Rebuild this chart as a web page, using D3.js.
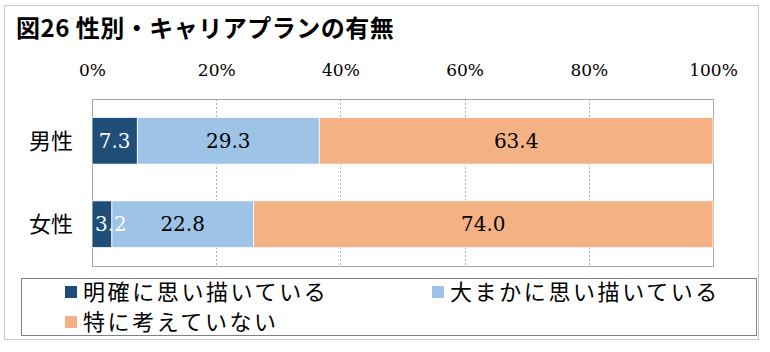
<!DOCTYPE html>
<html>
<head>
<meta charset="utf-8">
<script src="https://cdn.jsdelivr.net/npm/d3@7"></script>
<style>
  body { margin: 0; background: #fff; }
</style>
</head>
<body>
<script>
// chart data
var categories = ["男性", "女性"];
var seriesNames = ["明確に思い描いている", "大まかに思い描いている", "特に考えていない"];
var clearPlan = [7.3, 3.2];
var roughPlan = [29.3, 22.8];
var noPlan = [63.4, 74.0];
var tickValues = [0, 20, 40, 60, 80, 100];
var colors = ["#1F4E79", "#9DC3E6", "#F4B183"];
var labelColors = ["#fff", "#000", "#000"];

var jpFont = "'Noto Sans CJK JP', sans-serif";
var numFont = "'DejaVu Serif', serif";

var width = 770, height = 352;
var plot = {left: 92, right: 713, top: 99, bottom: 266};

var svg = d3.select("body").append("svg")
  .attr("width", width)
  .attr("height", height);

// outer frame
svg.append("rect")
  .attr("x", 4.5).attr("y", 5.5)
  .attr("width", 754).attr("height", 334)
  .attr("fill", "#fff")
  .attr("stroke", "#c8c8c8");

// title
svg.append("text")
  .attr("font-family", jpFont)
  .attr("x", 16).attr("y", 37)
  .attr("font-size", 24)
  .attr("font-weight", "bold")
  .attr("letter-spacing", 0.5)
  .text("図26 性別・キャリアプランの有無");

// build rows for stacking
var rows = categories.map(function(c, i) {
  return {cat: c, s0: clearPlan[i], s1: roughPlan[i], s2: noPlan[i]};
});
var stack = d3.stack().keys(["s0", "s1", "s2"]);
var layers = stack(rows);

var x = d3.scaleLinear().domain([0, 100]).range([plot.left, plot.right]);
var y = d3.scaleBand().domain(categories).range([plot.top, plot.bottom]).paddingInner(0.44).paddingOuter(0.22);

// gridlines
svg.append("g").selectAll("line")
  .data(tickValues.slice(1, -1))
  .enter().append("line")
  .attr("x1", function(d) { return Math.round(x(d)) + 0.5; })
  .attr("x2", function(d) { return Math.round(x(d)) + 0.5; })
  .attr("y1", plot.top).attr("y2", plot.bottom)
  .attr("stroke", "#b0b0b0")
  .attr("stroke-dasharray", "2,2");

// plot border
svg.append("rect")
  .attr("x", plot.left + 0.5).attr("y", plot.top + 0.5)
  .attr("width", plot.right - plot.left).attr("height", plot.bottom - plot.top)
  .attr("fill", "none")
  .attr("stroke", "#a6a6a6");

// top axis labels
var axis = d3.axisTop(x).tickValues(tickValues).tickSize(0)
  .tickFormat(function(d) { return d + "%"; });
var axisG = svg.append("g")
  .attr("transform", "translate(0," + 79 + ")")
  .call(axis)
  .attr("font-family", numFont)
  .attr("font-size", 17);
axisG.select(".domain").remove();
axisG.selectAll("text")
  .attr("font-family", numFont)
  .attr("font-size", 17)
  .attr("fill", "#000")
  .attr("dy", 0);

// bars
var layerG = svg.append("g").selectAll("g")
  .data(layers)
  .enter().append("g")
  .attr("fill", function(d, i) { return colors[i]; });

layerG.selectAll("rect")
  .data(function(d) { return d; })
  .enter().append("rect")
  .attr("x", function(d) { return x(d[0]); })
  .attr("y", function(d) { return y(d.data.cat); })
  .attr("width", function(d) { return x(d[1]) - x(d[0]); })
  .attr("height", y.bandwidth())
  .attr("stroke", "#fff")
  .attr("stroke-width", 0.8);

// value labels
layers.forEach(function(layer, li) {
  layer.forEach(function(d) {
    var v = d[1] - d[0];
    var t = svg.append("text")
      .attr("font-family", numFont)
      .attr("font-size", 20)
      .attr("fill", labelColors[li])
      .attr("text-anchor", "middle")
      .attr("y", y(d.data.cat) + y.bandwidth() / 2 + 7)
      .text(v.toFixed(1));
    var w = t.node().getComputedTextLength();
    var cx = (x(d[0]) + x(d[1])) / 2;
    cx = Math.max(cx, x(d[0]) + 3 + w / 2);
    t.attr("x", cx);
  });
});

// category labels
svg.append("g").selectAll("text")
  .data(categories)
  .enter().append("text")
  .attr("font-family", jpFont)
  .attr("x", 73)
  .attr("y", function(d) { return y(d) + y.bandwidth() / 2 + 8; })
  .attr("text-anchor", "end")
  .attr("font-size", 22)
  .text(function(d) { return d; });

// legend
svg.append("rect")
  .attr("x", 21.5).attr("y", 278.5)
  .attr("width", 735).attr("height", 57)
  .attr("fill", "#fff")
  .attr("stroke", "#808080");

var legendPos = [[65, 292], [432, 292], [65, 322]];
var legend = svg.append("g").selectAll("g")
  .data(seriesNames)
  .enter().append("g")
  .attr("transform", function(d, i) { return "translate(" + legendPos[i][0] + "," + legendPos[i][1] + ")"; });

legend.append("rect")
  .attr("x", 0).attr("y", -6)
  .attr("width", 12).attr("height", 12)
  .attr("fill", function(d, i) { return colors[i]; });

legend.append("text")
  .attr("font-family", jpFont)
  .attr("x", 18)
  .attr("y", 8)
  .attr("font-size", 22)
  .attr("letter-spacing", 2.6)
  .text(function(d) { return d; });
</script>
</body>
</html>
